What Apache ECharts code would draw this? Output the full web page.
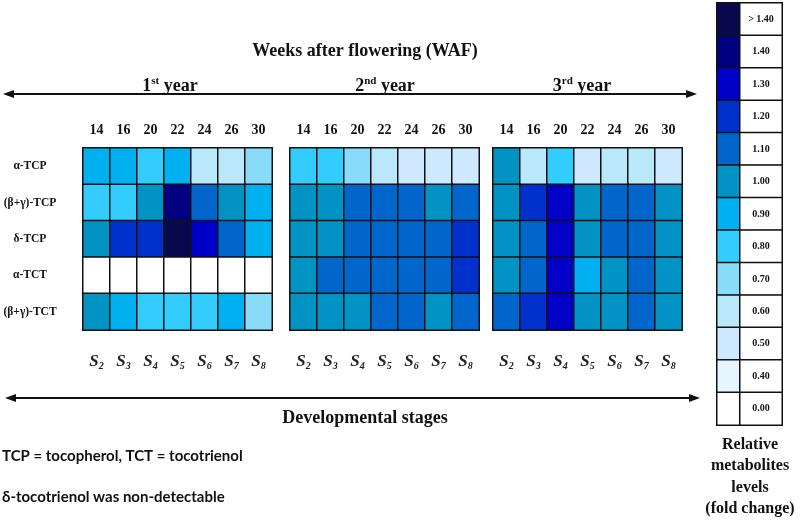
<!DOCTYPE html>
<html>
<head>
<meta charset="utf-8">
<script src="https://cdn.jsdelivr.net/npm/echarts@6/dist/echarts.min.js"></script>
<style>
  html, body { margin: 0; padding: 0; background: #fff; }
  #main { width: 800px; height: 527px; }
</style>
</head>
<body>
<div id="main"></div>
<script>
// data (fold change, binned to legend steps)
var weeks = ['14', '16', '20', '22', '24', '26', '30'];
var stages = ['2', '3', '4', '5', '6', '7', '8'];
var compounds = ['α-TCP', '(β+γ)-TCP', 'δ-TCP', 'α-TCT', '(β+γ)-TCT'];
var yearNames = [['1', 'st'], ['2', 'nd'], ['3', 'rd']];

var year1 = [
    [0.9, 0.9, 0.8, 0.9, 0.6, 0.6, 0.7],
    [0.8, 0.8, 1.0, 1.4, 1.1, 1.0, 0.9],
    [1.0, 1.2, 1.2, 1.5, 1.3, 1.1, 0.9],
    [0, 0, 0, 0, 0, 0, 0],
    [1.0, 0.9, 0.8, 0.8, 0.8, 0.9, 0.7]
];
var year2 = [
    [0.8, 0.8, 0.7, 0.6, 0.5, 0.5, 0.5],
    [1.0, 1.0, 1.1, 1.1, 1.1, 1.0, 1.1],
    [1.0, 1.0, 1.1, 1.1, 1.1, 1.1, 1.2],
    [1.0, 1.1, 1.1, 1.1, 1.1, 1.1, 1.2],
    [1.0, 1.0, 1.0, 1.1, 1.1, 1.0, 1.1]
];
var year3 = [
    [1.0, 0.6, 0.8, 0.5, 0.6, 0.6, 0.5],
    [1.0, 1.2, 1.3, 1.0, 1.1, 1.1, 1.0],
    [1.0, 1.1, 1.3, 1.0, 1.1, 1.1, 1.0],
    [1.0, 1.1, 1.3, 0.9, 1.0, 1.1, 1.0],
    [1.1, 1.2, 1.3, 1.0, 1.0, 1.1, 1.0]
];

// colour key, top to bottom
var levelLabels = ['> 1.40', '1.40', '1.30', '1.20', '1.10', '1.00', '0.90', '0.80', '0.70', '0.60', '0.50', '0.40', '0.00'];
var levelValues = [1.5, 1.4, 1.3, 1.2, 1.1, 1.0, 0.9, 0.8, 0.7, 0.6, 0.5, 0.4, 0];
var levelColors = ['#08084c', '#000080', '#0000c8', '#0031cc', '#0066cc', '#0093c4', '#00b0f0',
    '#33ccff', '#88dcfa', '#b8e8fa', '#cde8ff', '#e6f5ff', '#ffffff'];

var serif = '"Liberation Serif", "Times New Roman", serif';
var panelLeft = [83, 290, 493];
var panelW = 189, panelTop = 148, panelH = 182;

var grids = [], xAxes = [], yAxes = [], series = [];

function toCells(rows) {
    var out = [];
    rows.forEach(function (row, r) {
        row.forEach(function (v, c) { out.push([c, r, v]); });
    });
    return out;
}

[year1, year2, year3].forEach(function (rows, i) {
    grids.push({ left: panelLeft[i], top: panelTop, width: panelW, height: panelH,
        show: true, borderColor: '#111', borderWidth: 2, backgroundColor: 'transparent' });
    xAxes.push({
        type: 'category', gridIndex: i, data: weeks, position: 'top',
        axisLine: { show: false }, axisTick: { show: false }, splitLine: { show: false },
        axisLabel: { margin: 11, interval: 0, fontFamily: serif, fontWeight: 'bold', fontSize: 14, color: '#111' }
    });
    xAxes.push({
        type: 'category', gridIndex: i, data: stages, position: 'bottom',
        axisLine: { show: false }, axisTick: { show: false },
        axisLabel: {
            margin: 22, interval: 0, color: '#111', hideOverlap: false,
            formatter: function (v) { return '{s|S}{n|' + v + '}'; },
            rich: {
                s: { fontFamily: serif, fontStyle: 'italic', fontWeight: 'bold', fontSize: 17, color: '#222' },
                n: { fontFamily: serif, fontStyle: 'italic', fontWeight: 'bold', fontSize: 10, color: '#222',
                     padding: [9, 0, 0, 0] }
            }
        }
    });
    yAxes.push({
        type: 'category', gridIndex: i, data: compounds, inverse: true,
        axisLine: { show: false }, axisTick: { show: false },
        axisLabel: { show: i === 0, align: 'center', margin: 53, fontFamily: serif, fontWeight: 'bold',
            fontSize: 11.5, color: '#111', padding: [0, 0, 6, 0] }
    });
    series.push({
        type: 'heatmap', xAxisIndex: i * 2, yAxisIndex: i,
        data: toCells(rows),
        itemStyle: { borderColor: '#111', borderWidth: 1.5 },
        emphasis: { disabled: true }
    });
});

// colour key: swatch column + label column
grids.push({ left: 717, top: 3, width: 23, height: 422, show: true, borderColor: '#111', borderWidth: 2 });
grids.push({ left: 740, top: 3, width: 42, height: 422, show: true, borderColor: '#111', borderWidth: 2 });
[3, 4].forEach(function (g) {
    xAxes.push({ type: 'category', gridIndex: g, data: [''], axisLine: { show: false },
        axisTick: { show: false }, axisLabel: { show: false } });
    yAxes.push({ type: 'category', gridIndex: g, data: levelLabels, inverse: true,
        axisLine: { show: false }, axisTick: { show: false }, axisLabel: { show: false } });
});
series.push({
    type: 'heatmap', xAxisIndex: 6, yAxisIndex: 3,
    data: levelValues.map(function (v, i) { return [0, i, v]; }),
    itemStyle: { borderColor: '#111', borderWidth: 1.5 },
    emphasis: { disabled: true }
});
series.push({
    type: 'heatmap', xAxisIndex: 7, yAxisIndex: 4,
    data: levelLabels.map(function (t, i) { return [0, i, 0]; }),
    itemStyle: { color: '#fff', borderColor: '#111', borderWidth: 1.5 },
    label: { show: true, fontFamily: serif, fontWeight: 'bold', fontSize: 10, color: '#111',
        formatter: function (p) { return levelLabels[p.data[1]]; } },
    emphasis: { disabled: true }
});

var pieces = levelValues.map(function (v, i) {
    return { gte: v - 0.05, lt: v + 0.05, color: levelColors[i] };
});

// arrows and text annotations
function arrow(y, x1, x2) {
    return [
        { type: 'line', shape: { x1: x1 + 4, y1: y, x2: x2 - 4, y2: y }, style: { stroke: '#111', lineWidth: 2 } },
        { type: 'polygon', shape: { points: [[x1, y], [x1 + 11, y - 4], [x1 + 11, y + 4]] }, style: { fill: '#111' } },
        { type: 'polygon', shape: { points: [[x2, y], [x2 - 11, y - 4], [x2 - 11, y + 4]] }, style: { fill: '#111' } }
    ];
}
function yearText(i, x) {
    return {
        type: 'text', x: x, y: 86,
        style: {
            text: '{n|' + yearNames[i][0] + '}{sup|' + yearNames[i][1] + '}{n| year}',
            align: 'center', verticalAlign: 'middle',
            rich: {
                n: { fontFamily: serif, fontWeight: 'bold', fontSize: 18, fill: '#111', lineHeight: 20 },
                sup: { fontFamily: serif, fontWeight: 'bold', fontSize: 11, fill: '#111', verticalAlign: 'top',
                       padding: [0, 0, 8, 0] }
            }
        }
    };
}
var graphics = [].concat(
    arrow(94, 3, 697),
    arrow(398, 5, 700),
    [
        { type: 'text', x: 365, y: 51, style: { text: 'Weeks after flowering (WAF)', fontFamily: serif,
            fontWeight: 'bold', fontSize: 18, fill: '#111', align: 'center', verticalAlign: 'middle' } },
        yearText(0, 170), yearText(1, 385), yearText(2, 582),
        { type: 'text', x: 365, y: 418, style: { text: 'Developmental stages', fontFamily: serif,
            fontWeight: 'bold', fontSize: 18, fill: '#111', align: 'center', verticalAlign: 'middle' } },
        { type: 'text', x: 2, y: 456, style: { text: 'TCP = tocopherol, TCT = tocotrienol', fontFamily: 'Lato',
            fontWeight: 'bold', fontSize: 15, fill: '#111', verticalAlign: 'middle' } },
        { type: 'text', x: 2, y: 497, style: { text: 'δ-tocotrienol was non-detectable', fontFamily: 'Lato',
            fontWeight: 'bold', fontSize: 15, fill: '#111', verticalAlign: 'middle' } },
        { type: 'text', x: 750, y: 477, style: { text: 'Relative\nmetabolites\nlevels\n(fold change)',
            fontFamily: serif, fontWeight: 'bold', fontSize: 16, lineHeight: 21.5, fill: '#111',
            align: 'center', verticalAlign: 'middle' } }
    ]
);

var myChart = echarts.init(document.getElementById('main'));
var option = {
    backgroundColor: '#fff',
    animation: false,
    grid: grids,
    xAxis: xAxes,
    yAxis: yAxes,
    visualMap: {
        type: 'piecewise', show: false, seriesIndex: [0, 1, 2, 3], dimension: 2,
        pieces: pieces
    },
    series: series,
    graphic: graphics
};
myChart.setOption(option);
</script>
</body>
</html>
